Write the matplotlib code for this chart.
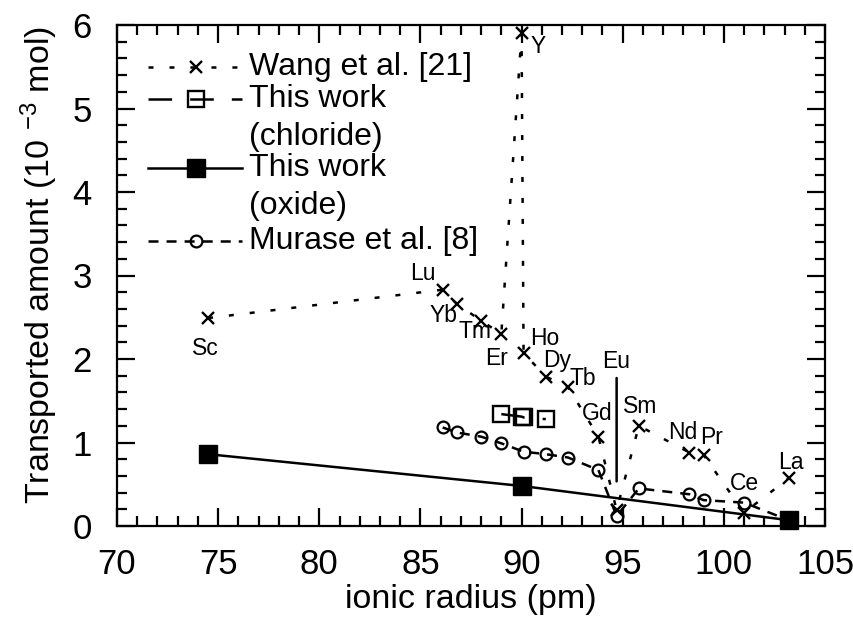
import matplotlib
matplotlib.use("Agg")
import matplotlib.pyplot as plt
from matplotlib.ticker import MultipleLocator

plt.rcParams["font.family"] = ["Liberation Sans", "DejaVu Sans"]
plt.rcParams["mathtext.fontset"] = "custom"
plt.rcParams["mathtext.rm"] = "Liberation Sans"
plt.rcParams["mathtext.it"] = "Liberation Sans:italic"
plt.rcParams["lines.scale_dashes"] = False

# ---- data: ionic radius (pm) vs transported amount (1e-3 mol) ----
wang_elements = ["Sc", "Lu", "Yb", "Tm", "Er", "Y", "Ho", "Dy", "Tb",
                 "Gd", "Eu", "Sm", "Nd", "Pr", "Ce", "La"]
wang_radius = [74.5, 86.1, 86.8, 88.0, 89.0, 90.0, 90.1, 91.2, 92.3,
               93.8, 94.7, 95.8, 98.3, 99.0, 101.0, 103.2]
wang_amount = [2.49, 2.83, 2.66, 2.46, 2.30, 5.90, 2.07, 1.79, 1.66,
               1.07, 0.19, 1.20, 0.88, 0.85, 0.16, 0.57]

chloride_radius = [89.0, 90.0, 90.1, 91.2]
chloride_amount = [1.34, 1.31, 1.30, 1.28]

oxide_radius = [74.5, 90.0, 103.2]
oxide_amount = [0.86, 0.48, 0.07]

murase_radius = [86.1, 86.8, 88.0, 89.0, 90.1, 91.2, 92.3, 93.8,
                 94.7, 95.8, 98.3, 99.0, 101.0, 103.2]
murase_amount = [1.18, 1.12, 1.07, 0.99, 0.89, 0.86, 0.82, 0.67,
                 0.12, 0.45, 0.38, 0.31, 0.28, 0.07]

x_ticks = [70, 75, 80, 85, 90, 95, 100, 105]
y_ticks = [0, 1, 2, 3, 4, 5, 6]

# element label offsets from each marker (points)
label_offsets = {
    "Sc": (-1.6, -21.7), "Lu": (-14.0, 11.8), "Yb": (-9.3, -8.1),
    "Tm": (-4.5, -8.2), "Er": (-3.2, -17.6), "Y": (11.7, -9.6),
    "Ho": (15.2, 10.7), "Dy": (8.4, 11.3), "Tb": (10.7, 6.2),
    "Gd": (-1.2, 16.4), "Eu": (0.0, 106.9), "Sm": (0.9, 13.8),
    "Nd": (-4.9, 14.7), "Pr": (5.6, 12.5), "Ce": (0.4, 20.7),
    "La": (1.4, 11.4),
}

# ---- line styles ----
LW = 1.8
wang_style = dict(color="k", lw=LW, dashes=(3.6, 11.5), marker="x",
                  ms=8.5, mew=1.7)
chloride_style = dict(color="k", lw=LW, dashes=(17, 13), marker="s",
                      ms=11.5, mfc="none", mew=1.7)
oxide_style = dict(color="k", lw=LW, linestyle="-", marker="s",
                   ms=13, mfc="k", mew=1)
murase_style = dict(color="k", lw=LW, dashes=(7.2, 5.8), marker="o",
                    ms=8.5, mfc="none", mew=1.6)

fig = plt.figure(figsize=(8.54, 6.25), dpi=100)
ax = fig.add_axes([0.137, 0.1584, 0.829, 0.8016])

ax.plot(wang_radius, wang_amount, clip_on=False, zorder=3, **wang_style)
ax.plot(chloride_radius, chloride_amount, clip_on=False, zorder=3,
        **chloride_style)
ax.plot(murase_radius, murase_amount, clip_on=False, zorder=3,
        **murase_style)
ax.plot(oxide_radius, oxide_amount, clip_on=False, zorder=4, **oxide_style)

for el, x, y in zip(wang_elements, wang_radius, wang_amount):
    dx, dy = label_offsets[el]
    kw = {}
    if el == "Eu":
        kw["arrowprops"] = dict(arrowstyle="-", color="k", lw=LW,
                                shrinkA=1.5, shrinkB=20.7)
    ax.annotate(el, (x, y), xytext=(dx, dy), textcoords="offset points",
                ha="center", va="center", fontsize=16.5, zorder=5, **kw)

# ---- axes ----
ax.set_xlim(70, 105)
ax.set_ylim(0, 6)
ax.set_xticks(x_ticks)
ax.set_yticks(y_ticks)
ax.xaxis.set_minor_locator(MultipleLocator(1))
ax.yaxis.set_minor_locator(MultipleLocator(0.2))
ax.tick_params(which="both", direction="in", top=True, right=True,
               width=1.6, colors="k", labelsize=25)
ax.tick_params(which="major", length=13)
ax.tick_params(which="minor", length=7)
ax.tick_params(axis="x", pad=16)
ax.tick_params(axis="y", pad=18)
for sp in ax.spines.values():
    sp.set_linewidth(1.6)

ax.set_xlabel("ionic radius (pm)", fontsize=24.5)
ax.set_ylabel("Transported amount (10 $^{-3}$ mol)", fontsize=24.5)
ax.xaxis.set_label_coords(0.5, -0.116)
ax.yaxis.set_label_coords(-0.0805, 0.52)

# ---- key ----
key_x0, key_x1, key_xm, key_tx = 0.0438, 0.1766, 0.111, 0.186
key_rows = [
    (0.916, wang_style, ["Wang et al. [21]"]),
    (0.852, chloride_style, ["This work", "(chloride)"]),
    (0.714, oxide_style, ["This work", "(oxide)"]),
    (0.5695, murase_style, ["Murase et al. [8]"]),
]
line_step = 0.076
for ky, style, lines in key_rows:
    line_kw = {k: v for k, v in style.items()
               if k not in ("marker", "ms", "mfc", "mew")}
    ax.plot([key_x0, key_x1], [ky, ky], transform=ax.transAxes,
            clip_on=False, **line_kw)
    ax.plot([key_xm], [ky], transform=ax.transAxes, clip_on=False,
            linestyle="none", color="k", marker=style["marker"],
            ms=style["ms"], mfc=style.get("mfc", "k"), mew=style["mew"])
    for i, txt in enumerate(lines):
        ax.text(key_tx, ky - i * line_step, txt, transform=ax.transAxes,
                ha="left", va="center", fontsize=23)

fig.savefig("out.png", dpi=100)
